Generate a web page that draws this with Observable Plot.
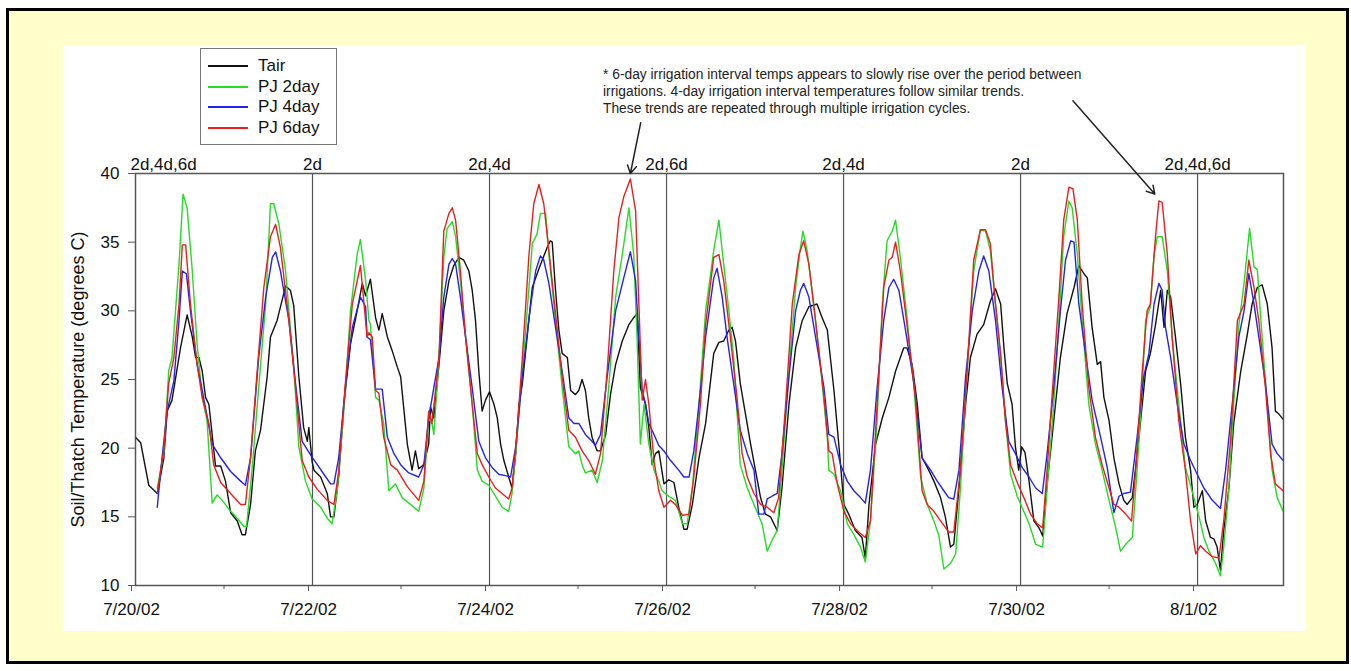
<!DOCTYPE html>
<html><head><meta charset="utf-8">
<script src="https://cdn.jsdelivr.net/npm/d3@7"></script>
<script src="https://cdn.jsdelivr.net/npm/@observablehq/plot@0.6"></script>
<style>
html,body{margin:0;padding:0;background:#fff;width:1351px;height:671px;overflow:hidden;font-family:"Liberation Sans",Arial,sans-serif;}
#outer{position:absolute;left:6px;top:8px;width:1343px;height:656px;box-sizing:border-box;border:3px solid #000;background:#ffffcc;}
#panel{position:absolute;left:63px;top:45px;width:1243px;height:586px;background:#fff;}
#chartwrap{position:absolute;left:63px;top:45px;width:1243px;height:586px;z-index:1;}
#legend{position:absolute;left:200px;top:48px;width:137px;height:97px;box-sizing:border-box;border:1px solid #777;background:#fff;z-index:2;}
.lgline{position:absolute;left:208px;width:40px;height:1.5px;z-index:3;}
.lgtext{position:absolute;left:258px;font-size:17px;line-height:20px;color:#111;white-space:nowrap;z-index:3;}
#note{position:absolute;left:603px;top:66px;font-size:13.8px;line-height:17px;color:#222;white-space:nowrap;z-index:3;}
</style></head>
<body>
<div id="outer"></div>
<div id="panel"></div>
<div id="chartwrap"></div>
<div id="legend"></div>
<div id="note"></div>
<script>
// ---- data (hours since 7/20/02 00:00, temperature °C) ----
const tair = [[0,20.8],[1.4,20.4],[3.6,17.3],[5.9,16.7],[7.7,19.3],[8.6,22.7],[9.9,23.5],[12.2,27.3],[14.0,29.7],[15.4,28.1],[16.3,26.6],[17.2,26.6],[18.1,25.6],[19.0,23.7],[19.9,23.2],[21.7,18.7],[23.1,18.7],[24.4,17.6],[25.8,15.3],[27.6,14.7],[28.9,13.7],[29.8,13.7],[31.2,15.9],[32.5,19.8],[33.9,21.3],[35.7,25.2],[36.6,28.1],[38.4,29.3],[40.7,31.8],[42.0,31.5],[42.9,30.4],[44.3,25.2],[45.6,21.5],[46.6,20.5],[47.0,21.5],[47.9,19.0],[48.4,18.4],[50.2,17.9],[52.0,16.7],[52.9,15.0],[53.8,15.0],[55.1,17.9],[56.5,23.2],[58.3,27.6],[60.1,30.0],[61.5,32.0],[62.4,31.1],[63.7,32.3],[65.1,29.5],[66.0,28.6],[66.9,29.8],[68.3,28.1],[69.6,27.1],[71.0,25.9],[71.9,25.2],[73.7,20.3],[75.0,18.4],[75.9,19.8],[76.8,18.5],
[78.2,18.8],[79.5,20.3],[80.0,23.0],[80.9,22.2],[82.3,26.1],[83.6,30.0],[85.0,32.2],[86.3,33.3],[87.7,33.9],[89.0,33.7],[90.4,32.9],[91.3,31.5],[92.2,29.3],[93.1,25.6],[94.0,22.7],[94.9,23.5],[96.0,24.1],[97.2,23.2],[98.1,22.2],[99.0,20.3],[99.9,19.1],[101.2,17.9],[102.1,17.1],[103.1,19.6],[104.0,23.2],[104.9,24.7],[106.2,28.1],[107.6,31.7],[108.9,32.7],[110.3,33.7],[111.6,34.6],[112.5,35.1],[113.0,35.0],[113.9,31.5],[114.8,28.6],[115.7,26.9],[117.1,26.6],[118.0,24.2],[119.3,23.9],[120.2,24.2],[121.1,25.0],[122.0,24.2],[122.9,22.2],[123.8,20.8],[125.2,19.8],[126.1,19.8],[127.5,21.0],[128.8,23.9],[130.2,26.1],[132.0,27.8],[133.8,29.0],[135.1,29.5],[136.0,29.8],[136.9,24.4],[138.3,23.2],[139.2,21.5],[140.1,18.8],[141.0,19.6],[141.9,19.8],[143.3,17.4],[144.6,17.7],[146.0,17.5],[147.3,15.7],[148.7,14.1],[149.6,14.1],[151.0,15.9],[152.8,19.3],[154.6,21.8],
[156.8,26.9],[158.2,27.7],[159.5,27.8],[160.9,28.6],[161.8,28.8],[162.7,27.8],[164.0,24.7],[165.4,22.5],[166.8,20.3],[168.1,18.4],[169.5,16.4],[170.8,15.2],[172.2,15.0],[174.0,14.0],[175.3,17.1],[177.2,23.2],[179.0,27.3],[180.8,29.3],[182.6,30.3],[184.8,30.5],[186.2,29.5],[187.6,28.6],[189.4,24.2],[190.7,20.3],[192.1,15.9],[193.4,15.2],[195.2,14.0],[197.0,13.5],[197.9,12.0],[198.9,15.9],[200.7,20.3],[202.5,22.2],[204.3,23.7],[206.1,25.6],[208.3,27.3],[209.2,27.3],[210.6,26.1],[212.0,23.2],[213.3,19.3],[215.1,18.4],[216.5,17.6],[218.3,16.4],[219.6,15.0],[221.0,12.8],[221.9,13.0],[223.3,17.1],[225.1,23.2],[226.4,26.6],[228.2,28.3],[230.0,29.0],[231.8,30.7],
[233.2,31.6],[234.6,30.5],[235.5,27.3],[236.4,24.7],[237.7,23.2],[238.6,20.1],[239.5,18.4],[240.3,20.1],[241.2,19.7],[242.3,17.6],[243.6,14.7],[245.0,14.2],[246.0,13.6],[247.2,17.4],[249.0,22.0],[250.8,26.6],[252.6,29.8],[254.5,31.7],[255.8,33.3],[257.2,32.7],[258.1,32.4],[259.4,28.8],[260.8,26.1],[261.7,26.3],[262.6,23.7],[264.0,22.0],[265.3,19.3],[266.7,17.4],[268.0,16.2],[268.9,15.9],[270.3,16.4],[272.1,20.8],[273.9,25.6],[275.2,26.9],[276.6,29.0],[278.0,31.5],[278.9,28.8],[279.8,31.5],[280.7,31.0],[282.0,28.1],[283.4,24.7],[284.7,20.8],[286.1,18.4],[287.0,15.7],[287.9,15.9],[289.3,16.9],[290.2,14.7],[291.5,13.5],[292.4,13.4],[293.3,12.8],[294.2,11.1],[295.1,14.0],[296.5,17.1],[297.8,21.8],[299.7,25.6],[301.5,28.3],[302.8,30.5],[304.2,31.7],[305.5,31.9],[306.9,30.5],[308.2,27.3],[309.1,22.7],[310.0,22.5],[311.2,22.1]];

const pj2day = [[5.9,17.1],[7.7,19.7],[9.0,25.6],[9.9,26.6],[11.8,33.4],[12.9,38.5],[14.0,37.5],[15.4,32.9],[16.7,27.6],[18.1,23.7],[19.4,22.0],[20.8,16.0],[22.1,16.6],[23.5,16.2],[25.8,15.4],[27.6,14.9],[29.4,14.3],[30.1,14.3],[31.6,18.4],[33.4,24.4],[35.3,30.5],[36.6,37.8],[37.5,37.8],[38.9,36.3],[40.7,32.9],[43.0,25.6],[44.3,20.1],[46.1,17.6],[47.9,16.3],[50.2,15.7],[52.0,14.9],[53.3,14.5],[54.7,16.9],[56.5,22.7],[58.3,30.0],[60.1,34.1],[61.0,35.2],[62.4,32.2],[63.3,29.3],[63.7,29.0],[65.1,23.7],[66.0,23.5],[67.3,21.8],[68.7,16.9],[70.5,17.4],[72.3,16.4],[74.6,15.9],[76.8,15.4],
[78.2,17.1],[79.5,22.2],[80.4,21.8],[80.9,21.0],[82.3,26.6],[83.6,33.9],[84.5,36.0],[85.9,36.5],[86.8,35.4],[88.1,32.2],[89.5,28.1],[91.3,23.2],[92.7,18.4],[94.0,17.6],[95.8,17.3],[97.6,16.5],[99.4,15.7],[101.2,15.4],[102.1,16.7],[103.5,20.8],[104.9,25.6],[106.7,31.7],[107.6,34.9],[108.9,35.6],[109.8,37.1],[111.2,37.1],[112.1,34.1],[113.9,29.3],[115.7,24.4],[117.5,20.1],[119.3,19.6],[120.2,19.8],[121.1,18.8],[122.0,18.2],[123.8,18.4],[125.2,17.5],[126.6,19.1],[128.4,24.7],[130.2,31.0],[132.0,34.1],[133.8,37.5],[135.1,34.1],[136.0,28.1],[136.9,20.3],[137.9,23.2],[139.2,20.3],[140.6,18.4],[141.9,17.6],[142.8,16.9],[144.6,16.5],[146.4,16.2],[148.3,14.5],[149.6,14.5],[151.0,17.1],[152.8,23.2],[154.6,30.0],
[156.8,34.4],[158.2,36.6],[159.5,33.4],[160.9,30.0],[162.2,26.6],[164.0,18.8],[165.9,17.1],[167.7,15.9],[169.9,14.5],[171.3,12.5],[172.6,13.3],[174.0,14.0],[175.3,18.4],[177.2,25.6],[179.0,31.7],[180.3,34.6],[181.0,35.8],[182.1,34.4],[183.9,30.5],[185.7,26.1],[187.6,20.8],[188.0,18.4],[189.4,18.1],[191.2,16.9],[193.0,14.5],[194.8,13.7],[196.6,12.8],[197.9,11.7],[199.3,14.7],[201.1,22.0],[202.5,30.5],[203.8,35.1],[205.2,35.8],[206.1,36.6],[207.4,33.9],[209.2,29.5],[211.1,24.4],[212.9,17.9],[214.7,15.9],[216.5,14.7],[217.8,13.7],[219.2,11.2],[221.0,11.6],[222.4,12.3],[223.7,17.1],[225.5,25.6],[227.3,32.9],[229.1,35.9],[230.5,35.8],[231.8,34.4],
[233.2,30.5],[234.6,26.6],[235.9,22.0],[237.3,18.1],[239.1,16.5],[240.4,15.7],[242.3,14.5],[244.1,13.0],[246.0,12.8],[247.2,17.1],[249.0,23.2],[250.4,29.3],[251.7,35.4],[253.1,38.0],[254.0,37.5],[255.4,34.1],[256.7,29.3],[258.5,23.2],[260.3,20.3],[262.1,18.4],[264.0,16.2],[265.8,14.2],[267.1,12.5],[268.5,13.0],[270.3,13.5],[271.6,18.4],[273.0,24.4],[273.9,29.3],[275.2,30.3],[276.2,34.1],[277.1,35.4],[278.4,35.4],[279.8,32.9],[281.1,28.1],[282.9,23.2],[284.7,18.6],[286.5,16.9],[288.4,15.0],[289.7,13.5],[291.1,12.5],[292.9,11.6],[294.2,10.7],[295.1,12.8],[296.5,17.1],[297.8,23.2],[299.2,29.0],[300.6,32.0],[302.1,36.0],[303.3,33.2],[304.2,33.0],[305.5,28.1],[306.9,23.2],[308.2,18.4],[309.6,16.4],[311.2,15.4]];

const pj4day = [[5.9,15.7],[7.2,19.3],[8.6,22.7],[10.4,24.9],[11.8,29.3],[12.7,32.9],[13.8,32.7],[14.9,30.0],[16.7,26.1],[18.1,24.2],[20.8,20.3],[23.1,19.3],[25.8,18.3],[28.5,17.6],[29.8,17.3],[31.2,19.3],[33.4,26.6],[35.3,31.0],[37.1,33.9],[38.0,34.3],[39.3,32.9],[41.6,29.3],[43.4,24.7],[45.2,20.5],[47.5,19.5],[49.3,18.8],[51.1,18.1],[52.9,17.4],[53.8,17.4],[55.1,19.3],[57.0,24.7],[58.8,28.8],[61.0,31.0],[62.4,30.3],[62.8,28.1],[63.7,27.9],[65.1,24.3],[66.9,24.3],[68.3,20.8],[70.1,19.6],[71.9,18.8],[74.1,18.2],[76.8,17.9],
[78.2,18.8],[79.5,22.2],[82.3,26.6],[83.6,31.0],[85.0,33.4],[85.9,33.8],[86.8,33.4],[88.1,31.0],[89.5,28.1],[91.3,24.4],[93.1,20.5],[94.9,19.3],[96.7,18.6],[98.5,18.1],[100.3,18.0],[101.7,17.9],[103.1,20.1],[104.9,25.2],[106.7,29.5],[108.5,32.9],[109.8,34.0],[110.7,33.7],[112.1,32.0],[113.9,28.8],[115.7,25.6],[117.5,22.2],[118.9,21.8],[120.2,21.8],[122.0,21.0],[123.8,20.5],[124.7,20.2],[126.1,21.0],[127.9,25.2],[130.2,30.0],[132.4,32.4],[134.2,34.3],[135.6,32.2],[136.5,28.1],[137.4,24.2],[138.3,23.2],[139.2,21.8],[140.6,21.0],[141.9,20.2],[143.3,19.8],[145.1,19.1],[147.3,18.4],[148.7,17.9],[150.1,17.9],[151.4,19.8],[153.2,24.2],[154.6,28.1],
[156.8,32.4],[157.7,33.1],[159.1,31.0],[160.4,28.1],[162.2,24.7],[164.0,21.3],[165.9,19.6],[167.7,18.4],[169.0,15.2],[170.4,15.2],[171.3,16.3],[172.6,16.5],[174.0,16.7],[175.3,19.6],[177.2,25.2],[179.0,30.0],[180.3,31.5],[181.2,32.0],[182.6,31.0],[184.4,28.1],[186.7,24.4],[188.0,21.0],[189.4,20.8],[191.2,18.8],[193.0,17.6],[194.8,16.9],[196.6,16.4],[197.9,16.0],[199.3,18.4],[201.1,24.4],[202.9,29.3],[204.3,31.7],[205.6,32.3],[207.0,31.5],[208.8,28.6],[211.1,24.7],[213.3,19.3],[215.6,18.4],[217.4,17.6],[219.2,16.9],[220.5,16.4],[221.9,16.3],[223.3,18.4],[225.1,25.2],[226.9,30.0],[228.7,32.9],[230.0,34.0],[231.4,32.9],
[233.2,29.3],[235.0,24.4],[236.8,20.5],[238.6,19.6],[240.4,18.6],[242.3,17.9],[244.1,17.1],[245.9,16.7],[247.2,19.6],[249.0,24.4],[250.8,30.0],[252.2,33.7],[253.6,35.1],[254.5,35.0],[255.8,30.5],[257.6,26.9],[259.4,23.5],[261.7,20.8],[263.5,18.6],[265.3,15.3],[266.7,16.5],[268.0,16.7],[269.8,16.8],[271.6,20.8],[273.4,25.2],[274.8,26.9],[276.2,30.5],[277.5,32.0],[278.4,31.5],[279.3,28.8],[280.7,26.6],[282.5,23.2],[284.3,20.3],[286.1,19.1],[287.9,18.1],[289.7,17.1],[292.0,16.2],[294.2,15.6],[295.6,18.4],[297.4,23.2],[299.2,28.1],[300.6,30.0],[301.9,32.7],[303.3,30.5],[304.6,28.1],[306.4,24.7],[308.2,20.3],[309.6,19.6],[311.2,19.1]];

const pj6day = [[5.9,16.7],[7.7,20.0],[9.0,24.7],[10.4,26.6],[11.8,30.5],[12.7,34.8],[13.6,34.8],[14.9,30.5],[16.7,26.1],[18.1,23.7],[19.9,21.8],[21.2,18.8],[23.1,17.5],[25.8,16.7],[28.5,15.9],[29.8,15.9],[31.2,19.3],[33.0,25.6],[34.8,31.7],[36.6,35.4],[38.0,36.3],[39.3,34.6],[41.6,29.3],[43.4,24.4],[45.2,19.1],[47.0,17.9],[49.3,17.0],[52.0,16.2],[53.8,15.9],[55.1,18.3],[56.9,24.7],[58.8,30.5],[61.0,33.3],[61.9,30.7],[62.8,28.1],[63.3,28.4],[64.2,28.1],[65.1,24.2],[66.0,24.0],[67.3,20.8],[69.2,18.8],[71.0,18.4],[73.7,17.2],[76.8,16.2],
[78.2,17.6],[79.5,22.7],[80.4,21.8],[82.3,26.6],[83.6,35.8],[85.0,37.1],[85.9,37.5],[86.8,36.6],[88.1,32.9],[89.5,28.1],[91.3,23.2],[92.7,19.6],[94.0,18.8],[95.8,17.9],[97.6,17.1],[99.4,16.7],[101.2,16.3],[102.1,17.1],[103.5,21.3],[104.9,26.6],[106.7,34.1],[108.0,37.8],[109.4,39.2],[110.7,37.8],[112.1,34.4],[113.9,29.8],[115.7,25.2],[117.5,21.3],[119.3,20.8],[121.1,19.8],[122.9,19.1],[124.7,18.1],[126.1,19.6],[127.9,25.6],[129.7,32.9],[131.1,36.8],[132.4,38.3],[134.2,39.6],[135.6,37.3],[136.5,30.5],[137.4,23.5],[138.3,25.0],[139.2,23.2],[140.6,19.1],[141.9,16.9],[143.3,15.7],[145.1,16.2],[146.4,15.9],[148.3,15.1],[150.1,15.2],[151.4,17.9],[153.2,23.2],[154.6,29.0],
[156.8,33.9],[158.2,34.1],[159.5,32.2],[161.3,28.1],[163.1,23.7],[164.5,19.6],[165.9,17.9],[167.7,16.7],[169.5,15.9],[171.3,15.7],[173.1,15.3],[174.4,16.4],[176.3,23.2],[178.1,30.5],[179.9,34.1],[181.2,35.1],[182.6,33.4],[184.4,29.3],[186.7,23.7],[188.0,19.8],[188.9,19.6],[190.3,17.4],[192.1,15.4],[193.9,14.5],[196.1,13.9],[197.9,13.5],[199.3,14.7],[201.1,23.2],[202.9,31.7],[204.3,33.7],[205.2,33.9],[206.1,35.0],[207.4,32.9],[209.2,29.0],[211.5,23.7],[213.3,16.9],[214.7,15.9],[216.5,15.4],[218.3,14.7],[220.5,13.9],[221.9,13.9],[223.7,18.4],[225.5,25.6],[227.3,33.7],[229.1,35.9],[230.5,35.9],[231.8,34.9],
[233.2,30.5],[234.6,26.9],[235.9,22.0],[237.3,18.8],[239.1,17.5],[240.9,16.4],[242.7,15.2],[244.5,14.5],[246.0,14.2],[247.2,18.4],[249.0,25.6],[250.4,31.0],[251.7,36.6],[253.1,39.0],[254.2,38.9],[255.4,36.6],[256.7,30.5],[258.5,24.4],[260.3,20.8],[262.1,18.8],[264.0,17.1],[265.3,15.9],[266.7,15.7],[268.5,15.2],[270.1,14.7],[271.2,18.4],[273.0,25.6],[274.3,30.0],[275.2,30.5],[276.6,35.4],[277.5,38.0],[278.4,37.9],[279.8,34.1],[281.1,28.1],[282.9,22.0],[284.7,18.4],[286.1,14.7],[287.5,12.3],[288.8,12.9],[290.2,12.5],[292.0,12.1],[293.8,12.0],[295.1,14.7],[297.0,20.8],[298.8,29.3],[300.6,30.5],[301.9,33.7],[303.3,31.7],[304.6,29.3],[306.4,24.4],[307.8,19.6],[309.1,17.4],[311.2,16.9]];

const seriesNames = ["Tair", "PJ 2day", "PJ 4day", "PJ 6day"];
const seriesColors = ["#111111", "#22dd22", "#2222ee", "#ee1c1c"];
const seriesPoints = [tair, pj2day, pj4day, pj6day];

const yTicks = [10, 15, 20, 25, 30, 35, 40];
const majorDays = [0, 2, 4, 6, 8, 10, 12];          // days after 7/20/02 (labelled)
const minorDays = [1, 3, 5, 7, 9, 11];
const gridDays = [2, 4, 6, 8, 10, 12];
const irrigationHours = [7.6, 48, 96, 144, 192, 240, 288];
const irrigationLabels = ["2d,4d,6d", "2d", "2d,4d", "2d,6d", "2d,4d", "2d", "2d,4d,6d"];
const xEndHours = 311.3;
const yLabel = "Soil/Thatch Temperature (degrees C)";
const noteLines = [
  "* 6-day irrigation interval temps appears to slowly rise over the period between",
  "irrigations. 4-day irrigation interval temperatures follow similar trends.",
  "These trends are repeated through multiple irrigation cycles."
];
// arrows: [startHour, startTemp, endHour, endTemp]
const arrowsData = [[137.0, 43.7, 134.2, 40.0], [254.2, 45.3, 276.4, 38.5]];

// ---- build ----
const t0 = Date.UTC(2002, 6, 20);
const H = h => new Date(t0 + h * 3600e3);
const D = d => new Date(t0 + d * 86400e3);

const rows = seriesNames.flatMap((name, i) =>
  seriesPoints[i].map(([h, v]) => ({date: H(h), value: v, series: name})));

const fmt = d3.utcFormat("%-m/%-d/%y");
const font = '"Liberation Sans", Arial, sans-serif';

const irr = irrigationHours.map((h, i) => ({date: H(h), label: irrigationLabels[i]}));
const arrows = arrowsData.map(([a, b, c, d]) => ({x1: H(a), y1: b, x2: H(c), y2: d}));

const chart = Plot.plot({
  width: 1243, height: 586,
  marginLeft: 72, marginRight: 23, marginTop: 128, marginBottom: 46,
  style: {fontFamily: font, fontSize: "17px", color: "#111", background: "transparent", overflow: "visible"},
  x: {type: "utc", domain: [H(0), H(xEndHours)]},
  y: {domain: [10, 40]},
  color: {domain: seriesNames, range: seriesColors},
  marks: [
    Plot.ruleX(gridDays.map(D), {stroke: "#555", strokeWidth: 1.2}),
    Plot.line(rows, {x: "date", y: "value", z: "series", stroke: "series", strokeWidth: 1.4, curve: "linear"}),
    Plot.frame({stroke: "#555", strokeWidth: 1.5}),
    Plot.axisY({ticks: yTicks, tickSize: 7, tickPadding: 9, fontSize: 17, label: null, stroke: "#555"}),
    Plot.axisX({ticks: majorDays.map(D), tickFormat: fmt, tickSize: 6, tickPadding: 11, fontSize: 17, label: null, dx: -4, stroke: "#555"}),
    Plot.axisX({ticks: minorDays.map(D), tickFormat: () => "", tickSize: 4, label: null, stroke: "#555"}),
    Plot.text(irr, {x: "date", text: "label", frameAnchor: "top", lineAnchor: "bottom", dy: -4, fontSize: 17, fill: "#111"}),
    Plot.text([yLabel], {frameAnchor: "left", textAnchor: "middle", rotate: -90, dx: -57, fontSize: 18, fill: "#111"}),
    Plot.arrow(arrows, {x1: "x1", y1: "y1", x2: "x2", y2: "y2", stroke: "#222", strokeWidth: 1.5, headLength: 9})
  ]
});
document.getElementById("chartwrap").appendChild(chart);

// legend
const rowY = [66, 87, 107, 128];
seriesNames.forEach((name, i) => {
  const ln = document.createElement("div");
  ln.className = "lgline";
  ln.style.top = (rowY[i] - 0.75) + "px";
  ln.style.background = seriesColors[i];
  document.body.appendChild(ln);
  const tx = document.createElement("div");
  tx.className = "lgtext";
  tx.style.top = (rowY[i] - 10) + "px";
  tx.textContent = name;
  document.body.appendChild(tx);
});

// note
document.getElementById("note").innerHTML = noteLines.map(s => `<div>${s}</div>`).join("");
</script>
</body></html>
